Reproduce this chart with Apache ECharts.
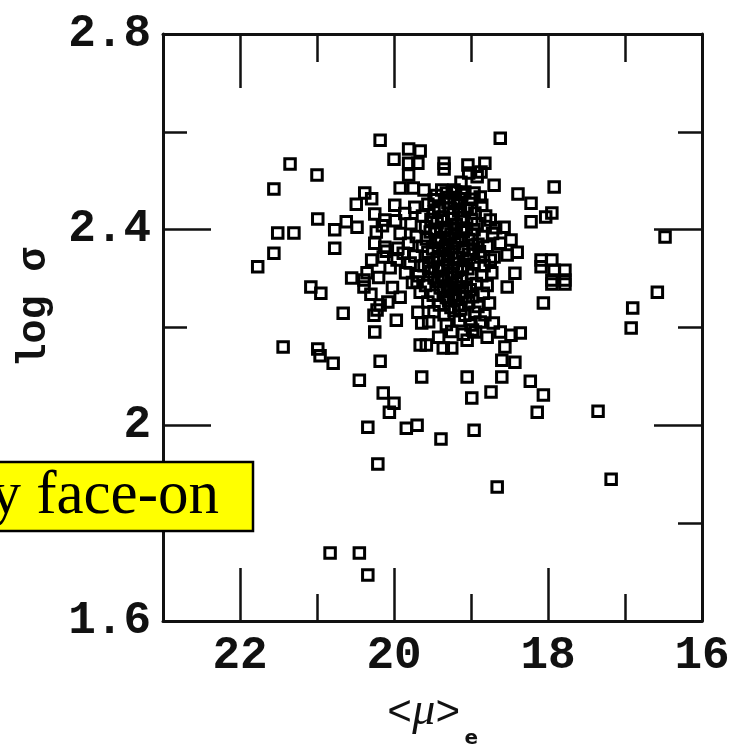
<!DOCTYPE html>
<html><head><meta charset="utf-8">
<script src="https://cdn.jsdelivr.net/npm/echarts@6/dist/echarts.min.js"></script>
<style>html,body{margin:0;padding:0;background:#fff}#c{width:729px;height:754px}</style>
</head><body><div id="c"></div>
<script>
// <mu>_e values (x) and log sigma values (y)
const muE = [
20.18,18.62,21.35,21.00,21.56,20.00,19.81,19.66,19.81,19.69,19.81,19.35,19.35,19.04,18.82,19.03,18.92,18.87,19.13,18.70,
17.92,18.39,18.22,19.92,19.75,19.61,20.38,20.29,20.49,19.32,19.22,19.08,18.96,20.99,21.51,21.30,20.77,20.62,20.48,20.23,
20.77,21.56,21.77,20.29,20.55,20.39,20.39,21.08,20.95,20.66,21.44,20.99,20.96,20.79,20.18,19.66,16.48,16.58,16.90,16.92,
18.09,17.95,18.09,17.92,17.78,17.95,17.78,17.95,17.78,18.06,17.95,18.03,18.22,18.43,18.53,18.40,18.48,18.57,18.62,18.48,
18.36,18.60,18.43,18.56,19.64,19.05,20.45,18.23,20.25,20.26,19.97,20.18,19.92,19.70,19.69,19.64,19.58,19.42,19.36,19.25,
19.05,18.94,18.79,18.71,18.60,18.74,18.06,18.99,20.14,20.00,20.06,18.14,17.35,20.34,19.84,19.70,19.39,18.96,20.21,18.66,
17.18,20.83,20.45,20.34,20.25,20.14,18.88,19.18,19.99,20.12,18.75,18.88,18.75,18.53,19.96,20.12,
19.45,19.28,19.12,18.99,
19.56,19.41,19.30,19.05,18.86,19.73,
19.86,19.63,19.48,19.36,19.23,19.10,18.95,18.81,
19.78,19.59,19.44,19.31,19.19,19.06,18.92,18.68,
19.92,19.71,19.53,19.39,19.26,19.13,18.99,18.85,18.72,
19.81,19.63,19.46,19.33,19.21,19.09,18.91,18.79,18.62,
19.88,19.73,19.56,19.41,19.29,19.16,19.03,18.89,18.70,
19.79,19.61,19.49,19.36,19.23,19.11,18.96,18.83,
19.85,19.68,19.52,19.39,19.26,19.13,18.99,18.86,18.73,
19.76,19.59,19.43,19.31,19.19,19.06,18.93,18.79,
19.66,19.49,19.36,19.23,19.11,18.98,18.84,
19.56,19.41,19.29,19.16,19.03,18.91,18.76,
19.48,19.35,19.22,19.08,18.95,18.82,
19.55,19.32,19.15,19.00,18.88,
19.25,19.10,18.98,
20.25,20.10,20.35,20.05,20.20,20.02,20.30,19.95,20.15,19.98,20.08,20.22,
19.38,19.20,
19.48,19.22,19.15,
19.42,19.27,19.16,19.00,
19.52,19.37,19.25,19.13,18.99,
19.47,19.34,19.22,19.10,18.96,
19.58,19.42,19.29,19.17,19.03,
19.50,19.36,19.24,19.11,18.97,
19.44,19.31,19.19,19.06,
19.55,19.42,19.30,19.18,19.04,
19.48,19.36,19.24,19.12,
19.40,19.28,19.15,19.01,
19.32,19.20,19.07,
19.26,19.13
];
const logSigma = [
2.583,2.587,2.534,2.512,2.483,2.544,2.565,2.561,2.536,2.536,2.512,2.536,2.524,2.532,2.536,2.516,2.508,2.518,2.497,2.491,
2.487,2.473,2.454,2.485,2.485,2.481,2.475,2.463,2.452,2.475,2.481,2.477,2.475,2.422,2.393,2.393,2.400,2.416,2.405,2.395,
2.362,2.352,2.324,2.338,2.301,2.297,2.283,2.283,2.270,2.229,2.160,2.156,2.142,2.127,2.131,2.164,2.385,2.272,2.240,2.199,
2.338,2.338,2.324,2.317,2.317,2.297,2.297,2.289,2.289,2.250,2.434,2.426,2.416,2.311,2.283,2.354,2.379,2.405,2.191,2.184,
2.189,2.133,2.129,2.160,2.099,2.099,2.092,2.090,2.191,2.225,2.215,2.246,2.262,2.293,2.231,2.209,2.164,2.180,2.158,2.158,
2.174,2.191,2.180,2.209,2.099,2.068,2.062,2.056,2.066,2.045,2.027,2.027,2.029,1.996,1.994,2.000,1.972,1.990,1.921,1.874,
1.890,1.739,1.739,1.694,2.432,2.344,2.467,2.454,2.450,2.420,2.420,2.344,2.338,2.348,2.338,2.364,
2.470,2.466,2.472,2.462,
2.452,2.447,2.455,2.444,2.450,2.446,
2.433,2.428,2.436,2.426,2.432,2.425,2.434,2.428,
2.412,2.406,2.414,2.404,2.410,2.402,2.412,2.404,
2.392,2.386,2.395,2.384,2.391,2.383,2.390,2.386,2.392,
2.372,2.366,2.374,2.365,2.371,2.363,2.370,2.366,2.372,
2.352,2.346,2.354,2.345,2.351,2.343,2.350,2.355,2.344,
2.332,2.326,2.334,2.325,2.331,2.323,2.330,2.326,
2.312,2.306,2.314,2.305,2.311,2.303,2.310,2.306,2.312,
2.292,2.286,2.294,2.285,2.291,2.283,2.290,2.286,
2.272,2.266,2.274,2.265,2.271,2.263,2.270,
2.252,2.246,2.254,2.245,2.251,2.243,2.250,
2.232,2.226,2.234,2.225,2.231,2.226,
2.212,2.206,2.214,2.205,2.211,
2.192,2.186,2.195,
2.372,2.356,2.312,2.322,2.302,2.282,2.268,2.362,2.408,2.418,2.252,2.236,
2.481,2.477,
2.461,2.458,2.463,
2.441,2.444,2.438,2.442,
2.421,2.418,2.423,2.417,2.420,
2.401,2.398,2.403,2.397,2.400,
2.381,2.378,2.383,2.377,2.380,
2.361,2.358,2.363,2.357,2.360,
2.341,2.338,2.343,2.337,
2.321,2.318,2.323,2.317,2.320,
2.301,2.298,2.303,2.297,
2.281,2.278,2.283,2.277,
2.261,2.258,2.263,
2.241,2.238
];
const xTickLabels = ['22','20','18','16'];
const yTickLabels = ['1.6','2','2.4','2.8'];
const X_MIN = 16, X_MAX = 23, Y_MIN = 1.6, Y_MAX = 2.8;

const ink = '#111';
const points = muE.map((x, i) => [x, logSigma[i]]);

function xAx(pos, interval, len, line, labels) {
  const a = {
    type: 'value', position: pos, inverse: true, min: X_MIN, max: X_MAX, interval: interval,
    axisLine: { show: line, onZero: false, lineStyle: { color: ink, width: 3 } },
    axisTick: { show: true, inside: true, length: len, lineStyle: { color: ink, width: 2.5 } },
    axisLabel: { show: labels },
    splitLine: { show: false }
  };
  if (labels) {
    a.axisLabel = {
      show: true, margin: 12, showMaxLabel: false,
      fontFamily: 'Liberation Mono', fontWeight: 'bold', fontSize: 46, color: ink,
      formatter: v => xTickLabels.indexOf(String(v)) >= 0 ? String(v) : ''
    };
    a.name = '{l|<}{m|μ}{l|>}{s|e}';
    a.nameLocation = 'middle';
    a.nameGap = 68;
    a.nameTextStyle = {
      rich: {
        l: { fontFamily: 'Liberation Mono', fontSize: 42, color: ink, lineHeight: 46, verticalAlign: 'bottom' },
        m: { fontFamily: 'Liberation Serif', fontStyle: 'italic', fontSize: 46, color: ink, lineHeight: 46, verticalAlign: 'bottom' },
        s: { fontFamily: 'DejaVu Sans', fontWeight: 'bold', fontSize: 20, color: ink, lineHeight: 46, verticalAlign: 'bottom', padding: [0, 0, -14, 4] }
      }
    };
  }
  return a;
}
function yAx(pos, labels) {
  const a = {
    type: 'value', position: pos, min: Y_MIN, max: Y_MAX, interval: 0.4,
    axisLine: { show: true, onZero: false, lineStyle: { color: ink, width: 3 } },
    axisTick: { show: true, inside: true, length: 48, lineStyle: { color: ink, width: 2.5 } },
    minorTick: { show: true, splitNumber: 2, length: 24, lineStyle: { color: ink, width: 2.5 } },
    axisLabel: { show: false },
    splitLine: { show: false }, minorSplitLine: { show: false }
  };
  if (labels) {
    a.axisLabel = {
      show: true, margin: 12,
      fontFamily: 'Liberation Mono', fontWeight: 'bold', fontSize: 46, color: ink,
      formatter: v => { const s = String(+v.toFixed(1)); return yTickLabels.indexOf(s) >= 0 ? s : ''; }
    };
    a.name = 'log σ';
    a.nameLocation = 'middle';
    a.nameRotate = 90;
    a.nameGap = 108;
    a.nameTextStyle = { fontFamily: 'Liberation Mono', fontWeight: 'bold', fontSize: 40, color: ink, padding: [0, 0, 0, 40] };
  }
  return a;
}

const chart = echarts.init(document.getElementById('c'), null, { renderer: 'canvas' });
chart.setOption({
  backgroundColor: '#fff',
  animation: false,
  grid: { left: 163, top: 34, right: 27, bottom: 133, containLabel: false, outerBoundsMode: 'none' },
  xAxis: [
    xAx('bottom', 2, 53, true, true),
    xAx('bottom', 1, 27, false, false),
    xAx('top', 2, 54, true, false),
    xAx('top', 1, 28, false, false)
  ],
  yAxis: [yAx('left', true), yAx('right', false)],
  series: [{
    type: 'scatter', xAxisIndex: 0, yAxisIndex: 0,
    symbol: 'rect', symbolSize: 10.5,
    itemStyle: { color: 'rgba(0,0,0,0)', borderColor: '#000', borderWidth: 3, opacity: 1 },
    data: points
  }],
  graphic: [
    { type: 'rect', z: 100, shape: { x: -6, y: 462, width: 259, height: 69 },
      style: { fill: '#ffff00', stroke: '#000', lineWidth: 2.5 } },
    { type: 'text', z: 101, x: 219, y: 497,
      style: { text: 'y face-on', font: '61px "Liberation Serif"', fill: '#000', align: 'right', verticalAlign: 'middle', textAlign: 'right', textVerticalAlign: 'middle' } }
  ]
});
</script>
</body></html>
